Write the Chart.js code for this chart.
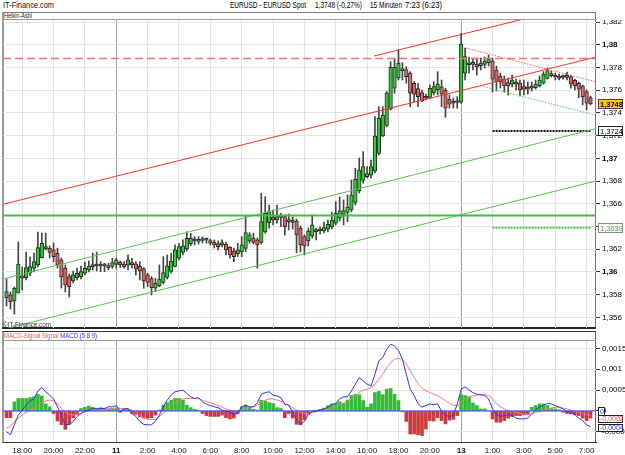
<!DOCTYPE html>
<html><head><meta charset="utf-8">
<title>EURUSD Heikin-Ashi 15 Minuten</title>
<script src="https://cdn.jsdelivr.net/npm/chart.js@4.4.1/dist/chart.umd.min.js"></script>
<style>
html,body{margin:0;padding:0;background:#fff}
body{position:relative;width:625px;height:455px;overflow:hidden;font-family:"Liberation Sans",Arial,sans-serif;color:#111}
.a{position:absolute;white-space:nowrap;line-height:1;z-index:3}
.fit{transform-origin:0 50%}
.box{position:absolute;box-sizing:border-box;z-index:0}
.ln{position:absolute;z-index:0}
canvas{position:absolute;left:0;z-index:1}
#cMain{top:20px}
#cMacd{top:341px}
</style></head>
<body>
<div class="a fit" data-w="51" style="left:3px;top:1px;font-size:9px;color:#111">IT-Finance.com</div>
<div class="a fit" data-w="76" style="left:230px;top:1px;font-size:9px;color:#000">EURUSD - EURUSD Spot</div>
<div class="a fit" data-w="47" style="left:315px;top:1px;font-size:9px;color:#000">1,3748 (-0,27%)</div>
<div class="a fit" data-w="32" style="left:370px;top:1px;font-size:9px;color:#000">15 Minuten</div>
<div class="a fit" data-w="37" style="left:405px;top:1px;font-size:9px;color:#000">7:23 (6:23)</div>

<div class="box" style="left:2px;top:12px;width:594px;height:317px;border:1px solid #777;border-left:2px solid #999"></div>
<div class="ln" style="left:2px;top:19px;width:594px;height:1px;background:#999"></div>
<div class="a fit" data-w="28" style="left:4px;top:13px;font-size:6.5px;color:#222">Heikin-Ashi</div>
<div class="ln" style="left:2px;top:327px;width:594px;height:2px;background:#222"></div>
<div class="a fit" data-w="48" style="left:3px;top:321.5px;font-size:6.5px;color:#333">©IT-Finance.com</div>

<div class="box" style="left:2px;top:331px;width:594px;height:112px;border:1px solid #666;border-left:2px solid #999;border-top:1px solid #333"></div>
<div class="ln" style="left:2px;top:340px;width:594px;height:1px;background:#999"></div>
<div class="a fit" data-w="93" style="left:4px;top:333px;font-size:6.5px"><span style="color:#e06060">MACD-Signal Signal</span> <span style="color:#3333ee">MACD (5 8 9)</span></div>

<canvas id="cMain" width="625" height="308"></canvas>
<canvas id="cMacd" width="625" height="114"></canvas>

<script>
// ---------- DATA ----------
const timeLabels = ["18:00","20:00","22:00","11","2:00","4:00","6:00","8:00","10:00","12:00","14:00","16:00","18:00","20:00","13","1:00","3:00","5:00","7:00"];
const timeTickBars = [4,12,20,28,36,44,52,60,68,76,84,92,100,108,116,124,132,140,148];
const dayLabels = ["11","13"];
const priceTicks = [1.356,1.358,1.360,1.362,1.364,1.366,1.368,1.370,1.372,1.374,1.376,1.378,1.380,1.382];
const macdTicks = [-0.0005,0,0.0005,0.001,0.0015];

const candleOpen = [
1.35774,1.35798,1.35745,1.35815,1.35945,1.35950,1.35989,1.36033,1.36062,1.36126,
1.36202,1.36209,1.36194,1.36165,1.36106,1.36033,1.35959,1.35921,1.35950,1.35959,
1.35989,1.36018,1.36047,1.36053,1.36053,1.36054,1.36055,1.36048,1.36066,1.36085,
1.36070,1.36059,1.36082,1.36072,1.36050,1.36029,1.35974,1.35941,1.35857,1.35879,
1.35909,1.35952,1.36004,1.36050,1.36121,1.36172,1.36202,1.36249,1.36273,1.36268,
1.36277,1.36282,1.36277,1.36264,1.36251,1.36238,1.36246,1.36220,1.36185,1.36158,
1.36176,1.36207,1.36273,1.36299,1.36282,1.36260,1.36352,1.36434,1.36484,1.36458,
1.36480,1.36487,1.36443,1.36436,1.36449,1.36387,1.36312,1.36273,1.36317,1.36365,
1.36361,1.36361,1.36376,1.36396,1.36429,1.36473,1.36506,1.36524,1.36547,1.36613,
1.36713,1.36805,1.36866,1.36852,1.36889,1.37043,1.37197,1.37289,1.37434,1.37617,
1.37709,1.37773,1.37782,1.37750,1.37661,1.37614,1.37579,1.37544,1.37536,1.37576,
1.37603,1.37629,1.37598,1.37519,1.37499,1.37492,1.37494,1.37751,1.37824,1.37828,
1.37829,1.37816,1.37828,1.37843,1.37859,1.37778,1.37725,1.37698,1.37668,1.37653,
1.37671,1.37663,1.37632,1.37622,1.37617,1.37622,1.37639,1.37663,1.37703,1.37738,
1.37734,1.37725,1.37716,1.37713,1.37719,1.37686,1.37661,1.37637,1.37589,1.37536];
const candleClose = [
1.35827,1.35739,1.35859,1.36070,1.35967,1.36038,1.36047,1.36091,1.36214,1.36253,
1.36223,1.36173,1.36135,1.36062,1.35956,1.35886,1.35871,1.35974,1.35989,1.36003,
1.36033,1.36053,1.36062,1.36062,1.36055,1.36056,1.36038,1.36082,1.36106,1.36062,
1.36047,1.36106,1.36062,1.36026,1.36009,1.35921,1.35909,1.35862,1.35901,1.35938,
1.35994,1.36055,1.36097,1.36194,1.36223,1.36231,1.36297,1.36297,1.36277,1.36288,
1.36286,1.36279,1.36253,1.36238,1.36223,1.36258,1.36194,1.36150,1.36135,1.36194,
1.36238,1.36346,1.36326,1.36261,1.36238,1.36443,1.36517,1.36531,1.36458,1.36487,
1.36493,1.36399,1.36449,1.36458,1.36326,1.36238,1.36229,1.36361,1.36414,1.36355,
1.36370,1.36390,1.36420,1.36458,1.36517,1.36539,1.36541,1.36572,1.36678,1.36816,
1.36898,1.36927,1.36839,1.36927,1.37197,1.37353,1.37382,1.37578,1.37801,1.37801,
1.37837,1.37791,1.37719,1.37573,1.37566,1.37543,1.37507,1.37529,1.37617,1.37631,
1.37654,1.37566,1.37441,1.37478,1.37485,1.37496,1.38006,1.37896,1.37830,1.37830,
1.37804,1.37839,1.37857,1.37874,1.37698,1.37672,1.37672,1.37637,1.37637,1.37690,
1.37654,1.37602,1.37610,1.37610,1.37628,1.37654,1.37690,1.37742,1.37773,1.37729,
1.37716,1.37707,1.37712,1.37725,1.37654,1.37637,1.37610,1.37543,1.37485,1.37480];
const candleHigh = [
1.35938,1.35824,1.35868,1.36264,1.36044,1.36176,1.36132,1.36167,1.36352,1.36343,
1.36343,1.36229,1.36255,1.36211,1.36123,1.36062,1.35982,1.36009,1.36035,1.36053,
1.36088,1.36097,1.36167,1.36176,1.36091,1.36077,1.36077,1.36121,1.36121,1.36097,
1.36091,1.36150,1.36121,1.36091,1.36091,1.36038,1.35989,1.35959,1.35945,1.36062,
1.36135,1.36150,1.36165,1.36238,1.36253,1.36282,1.36355,1.36341,1.36311,1.36311,
1.36308,1.36299,1.36290,1.36282,1.36273,1.36282,1.36264,1.36223,1.36211,1.36253,
1.36311,1.36493,1.36346,1.36341,1.36299,1.36693,1.36663,1.36590,1.36546,1.36590,
1.36517,1.36502,1.36510,1.36484,1.36466,1.36405,1.36326,1.36387,1.36502,1.36387,
1.36396,1.36440,1.36458,1.36528,1.36619,1.36660,1.36634,1.36678,1.36810,1.36913,
1.37003,1.37059,1.36927,1.36986,1.37367,1.37455,1.37455,1.37587,1.37851,1.37881,
1.37954,1.37842,1.37807,1.37763,1.37675,1.37661,1.37602,1.37566,1.37646,1.37675,
1.37763,1.37690,1.37617,1.37558,1.37531,1.37543,1.38101,1.37971,1.37892,1.37883,
1.37883,1.37883,1.37892,1.37910,1.37883,1.37813,1.37751,1.37725,1.37707,1.37734,
1.37698,1.37690,1.37690,1.37672,1.37672,1.37690,1.37725,1.37763,1.37795,1.37769,
1.37751,1.37742,1.37734,1.37760,1.37734,1.37698,1.37672,1.37646,1.37602,1.37549];
const candleLow = [
1.35701,1.35674,1.35630,1.35815,1.35842,1.35930,1.35965,1.36000,1.36044,1.36123,
1.36194,1.36123,1.36088,1.36035,1.35859,1.35824,1.35780,1.35903,1.35930,1.35938,
1.35974,1.36000,1.36018,1.36009,1.36003,1.36003,1.36018,1.36033,1.36033,1.36038,
1.36033,1.36018,1.36033,1.35974,1.35930,1.35857,1.35871,1.35798,1.35827,1.35871,
1.35894,1.35938,1.35989,1.36044,1.36106,1.36150,1.36185,1.36231,1.36238,1.36246,
1.36255,1.36253,1.36238,1.36211,1.36194,1.36220,1.36150,1.36121,1.36091,1.36135,
1.36135,1.36179,1.36253,1.36246,1.36033,1.36246,1.36341,1.36385,1.36414,1.36429,
1.36399,1.36326,1.36370,1.36378,1.36170,1.36176,1.36150,1.36229,1.36299,1.36282,
1.36334,1.36343,1.36352,1.36378,1.36414,1.36449,1.36414,1.36443,1.36531,1.36590,
1.36695,1.36781,1.36827,1.36827,1.36871,1.37030,1.37191,1.37279,1.37426,1.37573,
1.37690,1.37690,1.37661,1.37455,1.37499,1.37455,1.37499,1.37514,1.37529,1.37558,
1.37558,1.37455,1.37361,1.37441,1.37443,1.37441,1.37485,1.37690,1.37751,1.37778,
1.37734,1.37778,1.37795,1.37813,1.37584,1.37593,1.37619,1.37584,1.37558,1.37628,
1.37602,1.37549,1.37558,1.37566,1.37593,1.37610,1.37628,1.37654,1.37698,1.37716,
1.37690,1.37690,1.37698,1.37690,1.37619,1.37602,1.37534,1.37470,1.37426,1.37470];

const macdHist = [
-0.00016,-0.00016,0.00022,0.0003,0.0003,0.0003,0.00032,0.00034,0.0004,0.00036,
0.00017,0.0001,-0.00006,-0.00024,-0.00033,-0.00044,-0.00032,-0.00016,-0.00008,0.00006,
0.00009,0.00012,0.00009,0.00006,0.00008,0.00006,0.00005,0.00006,0.00006,-0.00003,
0.00005,0.00004,-0.00006,-0.00008,-0.00014,-0.00017,-0.00017,-0.00016,-0.0001,0.00002,
0.00014,0.0002,0.00026,0.0003,0.0003,0.00026,0.00014,0.00008,0.00004,0.00002,
-0.00006,-0.00011,-0.00013,-0.00013,-0.00013,-0.0001,-0.00016,-0.00019,-0.00017,-0.00006,
0.0001,0.00014,0.0001,0.00004,0.00002,0.00026,0.00024,0.0002,0.00018,0.00008,
0.00006,-0.00016,-0.00006,-0.00017,-0.00032,-0.00033,-0.00021,-0.00008,0.00001,0.00002,
0.00004,0.00007,0.00013,0.00017,0.00018,0.00022,0.00018,0.00026,0.00037,0.0004,
0.00039,0.00025,0.00009,0.00017,0.00044,0.00047,0.00039,0.00052,0.00054,0.0004,
0.00025,-0.00002,-0.00025,-0.00055,-0.00055,-0.00057,-0.00059,-0.00043,-0.00023,-0.00024,
-0.00016,-0.00023,-0.00031,-0.00022,-0.0002,-0.00011,0.00039,0.00037,0.00034,0.00019,
0.00013,0.00005,0.00005,0.00001,-0.00019,-0.00027,-0.00027,-0.00023,-0.00017,-0.00013,
-0.00011,-0.00011,-0.00009,-0.00007,0.00009,0.00013,0.00017,0.00017,0.00013,0.00006,
0.00005,0.00003,-0.00003,-0.00006,-0.00007,-0.00009,-0.00011,-0.00017,-0.00023,-0.00017];
const macdLine = [
-0.0005,-0.00056,-0.00033,-0.0001,0.00002,0.00014,0.00024,0.00029,0.00048,0.00056,
0.00046,0.00038,0.00029,0.0001,-0.00011,-0.00033,-0.00032,-0.00025,-0.00013,-0.00006,
0,0.00002,0.00006,0.00005,0.00006,0.00006,0.0001,0.0001,0.00013,0,
0.00005,0.00006,-0.00006,-0.00013,-0.00025,-0.00032,-0.00033,-0.00033,-0.00024,-0.0001,
0.0001,0.00026,0.00038,0.00046,0.00048,0.0005,0.00042,0.00034,0.0003,0.00032,
0.00022,0.00016,0.00013,0.0001,0.00008,0.00002,0,-0.00003,-0.00008,-0.00006,
0.0001,0.00014,0.0001,0.0001,0.0002,0.0004,0.00044,0.00046,0.00038,0.00036,
0.00032,0.00016,0.00014,-0.00003,-0.00021,-0.00032,-0.00025,-0.00008,-0.00002,0,
0.00002,0.00005,0.00009,0.00015,0.00018,0.00029,0.00034,0.00034,0.00048,0.00064,
0.0008,0.00072,0.00064,0.0006,0.00088,0.0012,0.00128,0.00148,0.0016,0.00156,
0.00145,0.00124,0.00088,0.00052,0.00037,0.00017,0.00009,0.00013,0.00017,0.00015,
0.00017,-0.00001,-0.00011,-0.00013,-0.00011,0.00017,0.00052,0.00058,0.0005,0.00044,
0.0004,0.00039,0.00037,0.00029,0.00005,-0.00009,-0.00013,-0.00011,-0.00009,-0.00011,
-0.00017,-0.00019,-0.00019,-0.00017,-0.00007,0.00002,0.0001,0.00013,0.00018,0.00017,
0.00013,0.00009,0.00005,-0.00001,-0.00003,-0.00009,-0.00017,-0.00023,-0.00034,-0.00037];
const signalLine = [
-0.00041,-0.00037,-0.00025,-0.00017,-0.0001,-0.00003,0.00002,0.00006,0.00014,0.0002,
0.00024,0.00026,0.00024,0.00018,0.00006,-0.00003,-0.00008,-0.0001,-0.00008,-0.00006,
-0.00003,0,0.00002,0.00002,0.00003,0.00004,0.00005,0.00006,0.00008,0.00006,
0.00005,0.00005,0.00002,-0.00003,-0.0001,-0.00016,-0.0002,-0.00021,-0.0002,-0.00013,
-0.00006,0.00006,0.00014,0.0002,0.00026,0.00029,0.0003,0.0003,0.0003,0.00029,
0.00026,0.00022,0.0002,0.00016,0.00013,0.00009,0.00005,0.00002,0,0,
0.00002,0.00006,0.00008,0.0001,0.00014,0.0002,0.00026,0.00029,0.00029,0.00026,
0.00024,0.00018,0.00014,0.00008,0.00002,-0.00003,-0.00006,-0.00006,-0.00003,-0.00002,
0.00001,0.00002,0.00004,0.00007,0.0001,0.00015,0.00018,0.00023,0.00029,0.00037,
0.00044,0.0005,0.00052,0.00056,0.00064,0.00076,0.00088,0.00104,0.00116,0.00124,
0.00126,0.00124,0.00112,0.00096,0.0008,0.00066,0.00055,0.00048,0.00044,0.0004,
0.00037,0.00031,0.00025,0.00018,0.00013,0.00013,0.00021,0.00029,0.00033,0.00037,
0.00038,0.00039,0.00039,0.00037,0.00029,0.00018,0.0001,0.00005,0.00001,-0.00001,
-0.00003,-0.00006,-0.00007,-0.00009,-0.00007,-0.00003,-0.00001,0.00002,0.00005,0.00007,
0.00009,0.00009,0.00007,0.00005,0.00002,-0.00001,-0.00003,-0.00006,-0.00009,-0.00011];

// drawn levels / trend lines: [barIndex, price]
const redDashLevel = 1.37879;
const greenLevel = 1.36497;
const redChannelLow = [[-0.9, 1.36596], [150.4, 1.37892]];
const redChannelHigh = [[93.75, 1.37901], [135, 1.38253]];
const greenChannelHigh = [[-0.9, 1.35938], [150.6, 1.37264]];
const greenChannelLow = [[-0.9, 1.35495], [150.6, 1.36803]];
const redTrendDotted = [[117.2, 1.37971], [150.1, 1.37676]];
const greenTrendDotted = [[121.8, 1.37631], [150.1, 1.37382]];
const blackLevelDotted = [[124, 1.3724], [149, 1.3724]];
const greenLevelDotted = [[124, 1.3639], [149, 1.3639]];

const mainBoxValues = [1.3748, 1.3724, 1.3639];
const macdBoxValues = [0, -0.0002, -0.0004];

// ---------- RENDER ----------
document.querySelectorAll('.fit').forEach(el => {
  const w = +el.dataset.w, r = el.getBoundingClientRect().width;
  if (r > 0) el.style.transform = 'scaleX(' + (w / r) + ')';
});

Chart.defaults.font.family = '"Liberation Sans", Arial, sans-serif';
Chart.defaults.font.size = 8;
Chart.defaults.color = '#111';

const xMin = -0.9, xMax = 150.4;
const idx = candleOpen.map((_, i) => i);
const UP = '#33cc33', DOWN = '#e26464';
const GRID = '#e3e3e3', DAYGRID = '#a0a0a0';

function fmt(v, d) {
  let s = v.toFixed(d);
  if (s.indexOf('.') >= 0) s = s.replace(/0+$/, '').replace(/\.$/, '');
  if (s === '-0') s = '0';
  return s.replace('.', ',');
}
const isDay = i => i !== undefined && dayLabels.includes(timeLabels[i]);
const isMajor = v => Math.abs(v * 100 - Math.round(v * 100)) < 1e-6;
const pts = arr => arr.map(p => ({x: p[0], y: p[1]}));
function lineDs(points, color, width, dash) {
  return {type: 'line', data: points, borderColor: color, borderWidth: width,
    borderDash: dash || [], pointRadius: 0, fill: false, tension: 0, order: 0};
}
function boxPlugin(id, values, decimals, styles) {
  return {id, afterDraw(chart) {
    const ctx = chart.ctx, ys = chart.scales.y;
    values.forEach((v, k) => {
      const st = styles[k];
      const y = Math.round(ys.getPixelForValue(v));
      const h = st.h, top = y - Math.floor(h / 2);
      ctx.save();
      ctx.fillStyle = st.bg; ctx.fillRect(st.x, top, st.w, h);
      ctx.strokeStyle = st.border; ctx.lineWidth = 1;
      ctx.strokeRect(st.x + 0.5, top + 0.5, st.w - 1, h - 1);
      ctx.fillStyle = st.fg; ctx.textBaseline = 'middle'; ctx.textAlign = 'left';
      ctx.font = (st.bold ? 'bold ' : '') + st.size + 'px "Liberation Sans", Arial, sans-serif';
      ctx.fillText(fmt(v, decimals), st.x + 2, top + h / 2 + 0.5);
      ctx.restore();
    });
  }};
}

const xGrid = {color: c => isDay(c.index) ? DAYGRID : GRID, drawTicks: false, offset: false, lineWidth: 1};

new Chart(document.getElementById('cMain'), {
  type: 'bar',
  data: {datasets: [
    lineDs(pts([[xMin, redDashLevel], [xMax, redDashLevel]]), '#ff6e6e', 1.6, [8, 4]),
    lineDs(pts([[xMin, greenLevel], [xMax, greenLevel]]), '#44b944', 2),
    lineDs(pts(redChannelLow), '#ff3030', 1),
    lineDs(pts(redChannelHigh), '#ff3030', 1),
    lineDs(pts(greenChannelHigh), '#55c455', 1),
    lineDs(pts(greenChannelLow), '#55c455', 1),
    lineDs(pts(redTrendDotted), '#ff5a5a', 1, [1.5, 1.5]),
    lineDs(pts(greenTrendDotted), '#55c455', 1, [1.5, 1.5]),
    lineDs(pts(blackLevelDotted), '#111', 2, [2, 1]),
    lineDs(pts(greenLevelDotted), '#44c444', 2, [2, 1]),
    {type: 'bar', data: idx.map(i => ({x: i, y: [candleOpen[i], candleClose[i]]})),
     backgroundColor: idx.map(i => candleClose[i] >= candleOpen[i] ? UP : DOWN),
     borderColor: '#2a2a2a', borderWidth: 1, borderSkipped: false,
     barThickness: 3.6, minBarLength: 2, grouped: false, order: 1},
    {type: 'bar', data: idx.map(i => ({x: i, y: [candleLow[i], candleHigh[i]]})),
     backgroundColor: '#444', borderWidth: 0, barThickness: 1, grouped: false, order: 2}
  ]},
  options: {
    responsive: false, animation: false, events: [],
    layout: {padding: {left: 3, right: 0, top: 0, bottom: 0}},
    plugins: {legend: {display: false}, tooltip: {enabled: false}},
    scales: {
      x: {type: 'linear', min: xMin, max: xMax, offset: false,
        afterBuildTicks: s => { s.ticks = timeTickBars.map(v => ({value: v})); },
        ticks: {display: false}, grid: xGrid, border: {display: false},
        afterFit: s => { s.height = 0; s.paddingLeft = 0; s.paddingRight = 0; }},
      y: {position: 'right', min: 1.35507, max: 1.38218,
        afterBuildTicks: s => { s.ticks = priceTicks.map(v => ({value: v})); },
        ticks: {callback: v => fmt(v, 3), color: '#000', padding: 2,
          font: c => ({size: 8, weight: (c && c.tick && isMajor(c.tick.value)) ? 'bold' : 'normal'})},
        grid: {color: GRID, tickColor: '#333', tickLength: 4, drawTicks: true},
        border: {display: false},
        afterFit: s => { s.width = 29; s.paddingTop = 0; s.paddingBottom = 0; }}
    }
  },
  plugins: [boxPlugin('mainBoxes', mainBoxValues, 4, [
    {x: 598, w: 25, h: 10, bg: '#ffcc00', fg: '#000', border: '#444', size: 7.5, bold: true},
    {x: 598, w: 25, h: 10, bg: '#fff', fg: '#000', border: '#222', size: 7.5},
    {x: 598, w: 25, h: 10, bg: '#fff', fg: '#33aa33', border: '#888', size: 7.5}
  ])]
});

new Chart(document.getElementById('cMacd'), {
  type: 'bar',
  data: {datasets: [
    {type: 'line', data: idx.map(i => ({x: i, y: macdLine[i]})), borderColor: '#3030ff', borderWidth: 1,
     pointRadius: 0, fill: false, tension: 0, order: 0},
    {type: 'line', data: idx.map(i => ({x: i, y: signalLine[i]})), borderColor: '#ff7a7a', borderWidth: 1,
     pointRadius: 0, fill: false, tension: 0, order: 1},
    lineDs(pts([[xMin, 0], [xMax, 0]]), '#2a3cff', 1.2),
    {type: 'bar', data: idx.map(i => ({x: i, y: macdHist[i]})),
     backgroundColor: idx.map(i => macdHist[i] >= 0 ? '#33bb33' : '#cc3b3b'),
     borderWidth: 0, barThickness: 3, grouped: false, order: 3}
  ]},
  options: {
    responsive: false, animation: false, events: [],
    layout: {padding: {left: 3, right: 0, top: 0, bottom: 0}},
    plugins: {legend: {display: false}, tooltip: {enabled: false}},
    scales: {
      x: {type: 'linear', min: xMin, max: xMax, offset: false,
        afterBuildTicks: s => { s.ticks = timeTickBars.map(v => ({value: v})); },
        ticks: {callback: (v, i) => timeLabels[i], autoSkip: false, maxRotation: 0, padding: 4, color: '#111',
          font: c => ({size: 8, weight: (c && isDay(c.index)) ? 'bold' : 'normal'})},
        grid: xGrid, border: {display: true, color: '#333'},
        afterFit: s => { s.height = 13; s.paddingLeft = 0; s.paddingRight = 0; }},
      y: {position: 'right', min: -0.000742, max: 0.001675,
        afterBuildTicks: s => { s.ticks = macdTicks.map(v => ({value: v})); },
        ticks: {callback: v => fmt(v, 4), color: '#000', padding: 2, font: {size: 8}},
        grid: {color: GRID, tickColor: '#333', tickLength: 4, drawTicks: true},
        border: {display: false},
        afterFit: s => { s.width = 29; s.paddingTop = 0; s.paddingBottom = 0; }}
    }
  },
  plugins: [boxPlugin('macdBoxes', macdBoxValues, 4, [
    {x: 598, w: 7, h: 9, bg: '#fff', fg: '#2a3cff', border: '#222', size: 7},
    {x: 598, w: 25, h: 8, bg: '#fff', fg: '#ff5050', border: '#222', size: 7},
    {x: 598, w: 25, h: 8, bg: '#fff', fg: '#2a3cff', border: '#222', size: 7}
  ])]
});
</script>
</body></html>
